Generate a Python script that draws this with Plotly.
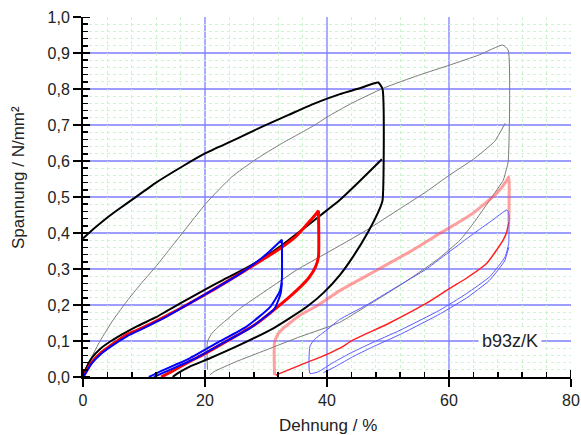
import plotly.graph_objects as go

# ---------------- data ----------------
gray_load_x = [0, 0.3, 1.4, 2.8, 5, 7.4, 9.7, 12.1, 14.2, 16.4, 20.3, 24.4, 28.2, 32.6, 35.6, 38, 40, 44, 49.2, 55, 60.2, 65, 68.8]
gray_load_y = [0, 0.02, 0.055, 0.1, 0.16, 0.215, 0.263, 0.31, 0.355, 0.402, 0.485, 0.556, 0.603, 0.649, 0.677, 0.70, 0.722, 0.76, 0.802, 0.838, 0.867, 0.895, 0.922]
gray_unload_x = [69.7, 69.7, 69.3, 68.9, 66.7, 64, 61.8, 58, 52, 46.5, 42.1, 40, 35.6, 30, 25, 21.5, 20.8]
gray_unload_y = [0.908, 0.598, 0.57, 0.547, 0.492, 0.427, 0.38, 0.325, 0.255, 0.197, 0.152, 0.138, 0.112, 0.075, 0.042, 0.015, 0.006]
gray_reload_x = [20.4, 20.4, 21, 21.9, 23.6, 25.7, 30, 35, 40, 46.5, 52, 56.3, 60, 64, 67.5, 69.2]
gray_reload_y = [0.02, 0.098, 0.118, 0.135, 0.16, 0.19, 0.24, 0.297, 0.345, 0.408, 0.468, 0.515, 0.56, 0.605, 0.655, 0.705]

black_load_x = [0, 0.4, 1.4, 2.8, 4.6, 7, 9, 12, 13.7, 16, 20, 23, 26.5, 29.5, 32.3, 36, 39, 42, 45, 49]
black_load_y = [0, 0.02, 0.052, 0.078, 0.1, 0.124, 0.142, 0.166, 0.183, 0.205, 0.243, 0.27, 0.3, 0.33, 0.362, 0.41, 0.45, 0.49, 0.538, 0.605]
black_upper_x = [0, 2, 4, 6, 8, 11.8, 16.2, 20, 25, 29.3, 33.7, 38, 42, 45.5, 48.4, 49.1]
black_upper_y = [0.385, 0.415, 0.443, 0.468, 0.492, 0.538, 0.584, 0.621, 0.66, 0.695, 0.728, 0.76, 0.785, 0.803, 0.818, 0.80]
black_unload_x = [49.1, 48.7, 46.8, 44.3, 42.1, 39.5, 36.7, 31.2, 25.7, 20.8, 17.5, 15.5, 14.7]
black_unload_y = [0.49, 0.47, 0.405, 0.335, 0.283, 0.235, 0.195, 0.135, 0.089, 0.052, 0.029, 0.01, 0.0]

red_load_x = [0, 0.4, 1.4, 2.8, 4.6, 7.2, 9, 13.7, 20.3, 26, 32.3, 35, 38.3, 38.6]
red_load_y = [0, 0.012, 0.04, 0.065, 0.088, 0.118, 0.131, 0.17, 0.232, 0.29, 0.357, 0.392, 0.455, 0.462]
red_unload_x = [38.6, 38.6, 38.1, 37.0, 33.9, 28.5, 23, 20, 17.5, 14.5, 12.8]
red_unload_y = [0.462, 0.334, 0.305, 0.275, 0.223, 0.149, 0.094, 0.065, 0.043, 0.015, 0.0]

blue_load_x = [0, 0.4, 1.4, 2.8, 4.6, 7.2, 9, 13.7, 20.3, 26, 30, 32.6]
blue_load_y = [0, 0.01, 0.037, 0.062, 0.085, 0.113, 0.128, 0.168, 0.232, 0.29, 0.34, 0.381]
blue_unload_x = [32.6, 32.6, 32.3, 30.7, 26.8, 21.9, 17.5, 15, 12.6, 10.8]
blue_unload_y = [0.381, 0.27, 0.24, 0.195, 0.14, 0.094, 0.052, 0.033, 0.015, 0.0]
blue_unload2_x = [32.6, 32.4, 31.4, 27.5, 22.6, 18.2, 15.7, 13.3, 11.6]
blue_unload2_y = [0.262, 0.232, 0.19, 0.137, 0.091, 0.05, 0.031, 0.013, 0.0]

pink_load_x = [31.4, 31.4, 32, 32.8, 33.9, 35.6, 38.3, 42.1, 44, 48.7, 54, 58.5, 61.8, 64, 67.8, 69.5, 69.8, 69.8]
pink_load_y = [0.005, 0.097, 0.12, 0.135, 0.15, 0.172, 0.197, 0.24, 0.258, 0.302, 0.352, 0.399, 0.432, 0.456, 0.51, 0.547, 0.556, 0.431]
red2_unload_x = [69.8, 69.5, 68.9, 66.2, 62.9, 60, 56.3, 50, 44.3, 42.1, 40, 35.6, 32.3, 31.6]
red2_unload_y = [0.431, 0.405, 0.381, 0.316, 0.275, 0.245, 0.205, 0.148, 0.103, 0.08, 0.063, 0.033, 0.01, 0.005]

lblue_load_x = [37.2, 37.2, 38, 39.9, 42.1, 46.5, 51, 56.3, 58.5, 61.8, 64, 67, 69.5, 69.8, 69.8]
lblue_load_y = [0.01, 0.085, 0.105, 0.13, 0.16, 0.2, 0.246, 0.3, 0.328, 0.37, 0.398, 0.434, 0.464, 0.455, 0.371]
lblue_unload_x = [69.8, 69.2, 66.7, 62.9, 58.5, 52, 47, 43.8, 41, 38.5, 37.2]
lblue_unload_y = [0.371, 0.334, 0.279, 0.232, 0.186, 0.13, 0.092, 0.066, 0.04, 0.014, 0.01]
lblue_unload2_x = [69.8, 69.1, 66.6, 63, 58.6, 52.2, 47.3, 44.2, 41.5, 39.4]
lblue_unload2_y = [0.36, 0.322, 0.268, 0.221, 0.176, 0.12, 0.082, 0.056, 0.03, 0.012]

x_ticks = [0, 20, 40, 60, 80]
y_ticks = [0.0, 0.1, 0.2, 0.3, 0.4, 0.5, 0.6, 0.7, 0.8, 0.9, 1.0]
x_minor = [v for v in range(0, 81, 4) if v % 20 != 0]
y_minor = [round(k * 0.02, 2) for k in range(51) if k % 5 != 0]
label_text = "b93z/K"
x_title = "Dehnung / %"
y_title = "Spannung / N/mm²"

FONT = "Liberation Sans, Arial, sans-serif"
GRID_BLUE = "rgb(125,125,255)"

fig = go.Figure()


def add(xs, ys, color, width):
    fig.add_trace(go.Scatter(x=xs, y=ys, mode="lines", hoverinfo="skip",
                             line=dict(color=color, width=width, shape="spline", smoothing=0.5),
                             cliponaxis=False))


add(gray_load_x + gray_unload_x, gray_load_y + gray_unload_y, "#7a7a7a", 1)
add(gray_reload_x, gray_reload_y, "#7a7a7a", 1)
add(black_load_x, black_load_y, "#000000", 2)
add(black_upper_x + black_unload_x, black_upper_y + black_unload_y, "#000000", 2)
add(red_load_x + red_unload_x, red_load_y + red_unload_y, "#ff0000", 3)
add(blue_load_x + blue_unload_x, blue_load_y + blue_unload_y, "#0000ff", 2)
add(blue_unload2_x, blue_unload2_y, "#0000ff", 2)
add(pink_load_x, pink_load_y, "rgba(255,80,80,0.55)", 3)
add(red2_unload_x, red2_unload_y, "#ff2020", 1.5)
add(lblue_load_x + lblue_unload_x, lblue_load_y + lblue_unload_y, "#5a5aff", 1)
add(lblue_unload2_x, lblue_unload2_y, "#5a5aff", 1)

shapes = []
# major grid lines (blue) drawn below the data
for v in x_ticks[1:-1]:
    shapes.append(dict(type="line", xref="x", yref="y", x0=v, x1=v, y0=0, y1=1.0,
                       line=dict(color=GRID_BLUE, width=1.3), layer="below"))
for v in y_ticks[1:-1]:
    shapes.append(dict(type="line", xref="x", yref="y", x0=0, x1=80, y0=v, y1=v,
                       line=dict(color=GRID_BLUE, width=1.3), layer="below"))
# inner half of the crossing major ticks
for v in x_ticks:
    shapes.append(dict(type="line", xref="x", yref="y", x0=v, x1=v, ysizemode="pixel",
                       yanchor=0, y0=0, y1=7, line=dict(color="black", width=2)))
for v in y_ticks:
    shapes.append(dict(type="line", xref="x", yref="y", y0=v, y1=v, xsizemode="pixel",
                       xanchor=0, x0=0, x1=7, line=dict(color="black", width=2)))

axis_common = dict(
    showline=True, linewidth=2, linecolor="black", mirror=False, automargin=False,
    ticks="outside", ticklen=8, tickwidth=2, tickcolor="black",
    showgrid=False, zeroline=False,
    tickfont=dict(family=FONT, size=16, color="#222"),
)
minor_common = dict(ticks="inside", ticklen=5, tickwidth=1.5, tickcolor="black",
                    showgrid=True, gridcolor="#cdf5cd", griddash="dot", gridwidth=1)

fig.update_layout(
    template="none",
    width=581, height=435,
    margin=dict(l=83, r=10, t=17, b=58, autoexpand=False),
    paper_bgcolor="white", plot_bgcolor="white",
    showlegend=False,
    separators=",.",
    hovermode=False,
    xaxis=dict(range=[0, 80], tickvals=x_ticks, **axis_common,
               minor=dict(tickvals=x_minor, **minor_common)),
    yaxis=dict(range=[0, 1.0], tickvals=y_ticks, tickformat=".1f", **axis_common,
               minor=dict(tickvals=y_minor, **minor_common)),
    shapes=shapes,
    annotations=[
        dict(x=70, y=0.1, xref="x", yref="y", text=label_text, showarrow=False,
             font=dict(family=FONT, size=18, color="#222"), bgcolor="white", borderpad=3),
        dict(x=(327.5 - 83) / 488, y=(377 - 425) / 360, xref="paper", yref="paper",
             text=x_title, showarrow=False, xanchor="center", yanchor="middle",
             font=dict(family=FONT, size=17, color="#222")),
        dict(x=(18 - 83) / 488, y=(377 - 178) / 360, xref="paper", yref="paper",
             text=y_title, showarrow=False, textangle=-90, xanchor="center", yanchor="middle",
             font=dict(family=FONT, size=17, color="#222")),
    ],
)

# remove the default 8px page margin so the figure fills the 581x435 window exactly
fig.write_html("out.html",
               config={"displayModeBar": False, "staticPlot": True},
               post_script="document.body.style.margin='0px';document.body.style.overflow='hidden';")
